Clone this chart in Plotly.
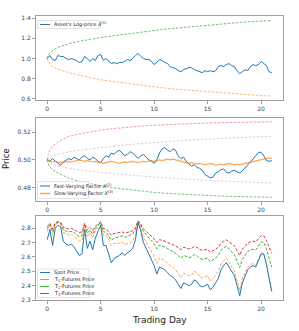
import plotly.graph_objects as go
from plotly.subplots import make_subplots

# ---------------- data ----------------
t = [round(0.25 * i, 2) for i in range(85)]
t_env = [0, 0.1, 0.25, 0.5, 1, 1.5, 2, 3, 4, 5, 6, 7, 8, 9, 10, 11, 12, 13, 14, 15, 16, 17, 18, 19, 20, 21]

log_price = [1.00,1.03,0.99,0.98,1.03,1.02,1.02,1.00,0.99,1.00,
             0.99,0.98,0.96,0.97,1.02,1.00,0.97,1.00,0.98,1.03,
             1.04,0.98,1.00,0.97,0.95,0.96,0.95,0.96,0.96,0.97,
             0.99,0.98,1.00,1.03,1.05,1.02,1.00,0.99,0.99,0.97,
             0.94,0.96,0.99,0.98,0.96,0.95,0.92,0.91,0.90,0.88,
             0.87,0.89,0.90,0.91,0.91,0.89,0.88,0.87,0.86,0.88,
             0.87,0.88,0.87,0.88,0.92,0.93,0.92,0.94,0.95,0.93,
             0.92,0.88,0.85,0.87,0.89,0.88,0.92,0.94,0.93,0.94,
             0.97,0.95,0.93,0.87,0.86]
lp_upper = [1.00,1.035,1.055,1.08,1.11,1.13,1.145,1.17,1.19,1.207,1.222,1.237,1.25,1.265,1.28,1.29,1.30,1.31,1.322,1.332,1.34,1.348,1.356,1.363,1.37,1.377]
lp_lower = [1.00,0.965,0.945,0.92,0.895,0.875,0.86,0.835,0.81,0.79,0.775,0.76,0.745,0.73,0.718,0.707,0.697,0.688,0.679,0.67,0.662,0.655,0.648,0.641,0.634,0.628]

fast_factor = [0.500,0.499,0.501,0.499,0.498,0.496,0.4985,0.500,0.501,0.500,
               0.502,0.501,0.500,0.502,0.503,0.501,0.500,0.502,0.501,0.499,
               0.498,0.501,0.503,0.502,0.505,0.504,0.506,0.507,0.505,0.503,
               0.504,0.506,0.505,0.503,0.501,0.503,0.504,0.502,0.500,0.499,
               0.4975,0.500,0.505,0.508,0.509,0.507,0.506,0.508,0.507,0.503,
               0.501,0.502,0.499,0.497,0.4955,0.4965,0.4945,0.494,0.4925,0.4895,
               0.488,0.487,0.4875,0.4905,0.4915,0.493,0.4935,0.491,0.4905,0.492,
               0.4925,0.4915,0.4905,0.492,0.4945,0.4965,0.4985,0.5005,0.503,0.5055,
               0.5055,0.503,0.4995,0.499,0.4995]
slow_factor = [0.500,0.4995,0.4985,0.499,0.498,0.4985,0.498,0.4985,0.499,0.4985,
               0.499,0.4995,0.500,0.4995,0.499,0.4995,0.499,0.4985,0.499,0.4985,
               0.498,0.4975,0.498,0.4985,0.499,0.4985,0.498,0.4975,0.498,0.4985,
               0.498,0.4985,0.499,0.4985,0.498,0.4985,0.499,0.4985,0.499,0.4995,
               0.499,0.4995,0.500,0.4995,0.500,0.5005,0.500,0.5005,0.500,0.4995,
               0.499,0.4985,0.498,0.4975,0.498,0.4975,0.497,0.4975,0.497,0.4965,
               0.497,0.4975,0.497,0.496,0.4965,0.497,0.4965,0.497,0.4975,0.497,
               0.4965,0.497,0.4965,0.497,0.4975,0.498,0.4985,0.4985,0.499,0.4995,
               0.500,0.5005,0.501,0.5015,0.501]
fast_upper = [0.500,0.504,0.507,0.510,0.513,0.5153,0.517,0.5188,0.5203,0.5215,0.5225,0.5233,0.524,0.5246,0.5251,0.5255,0.5259,0.5262,0.5265,0.5267,0.5269,0.5271,0.5273,0.5274,0.5275,0.5276]
fast_lower = [0.500,0.497,0.495,0.493,0.4905,0.4885,0.487,0.4845,0.4828,0.4813,0.480,0.479,0.478,0.4772,0.4765,0.4759,0.4754,0.4749,0.4745,0.4742,0.4739,0.4737,0.4735,0.4733,0.4731,0.473]
slow_upper = [0.500,0.501,0.502,0.503,0.504,0.505,0.5058,0.507,0.508,0.509,0.5098,0.5106,0.5113,0.512,0.5126,0.5132,0.5137,0.5142,0.5147,0.5151,0.5155,0.5159,0.5162,0.5165,0.5168,0.5171]
slow_lower = [0.500,0.499,0.498,0.497,0.4958,0.4948,0.494,0.4928,0.4918,0.491,0.4902,0.4895,0.4888,0.4882,0.4876,0.4870,0.4865,0.486,0.4856,0.4852,0.4848,0.4845,0.4842,0.4839,0.4836,0.4833]

spot = [2.72,2.79,2.68,2.80,2.82,2.81,2.71,2.69,2.68,2.69,
        2.67,2.64,2.61,2.62,2.79,2.66,2.71,2.65,2.73,2.78,
        2.82,2.68,2.68,2.62,2.56,2.59,2.60,2.61,2.63,2.61,
        2.63,2.64,2.66,2.72,2.84,2.78,2.70,2.66,2.62,2.58,
        2.54,2.48,2.53,2.52,2.51,2.49,2.47,2.46,2.44,2.41,
        2.38,2.42,2.41,2.40,2.41,2.44,2.43,2.40,2.39,2.40,
        2.41,2.37,2.39,2.42,2.45,2.51,2.54,2.56,2.53,2.50,
        2.47,2.40,2.33,2.42,2.47,2.51,2.53,2.54,2.53,2.58,
        2.62,2.62,2.55,2.45,2.36]
fut_t1 = [2.776,2.818,2.752,2.824,2.836,2.830,2.770,2.758,2.752,2.758,
          2.746,2.728,2.710,2.716,2.818,2.740,2.770,2.734,2.782,2.812,
          2.836,2.752,2.752,2.716,2.680,2.693,2.694,2.695,2.704,2.685,
          2.694,2.697,2.710,2.754,2.845,2.798,2.736,2.704,2.671,2.638,
          2.604,2.554,2.593,2.584,2.574,2.556,2.538,2.528,2.510,2.483,
          2.456,2.488,2.478,2.468,2.475,2.500,2.490,2.463,2.453,2.461,
          2.469,2.432,2.449,2.474,2.499,2.550,2.574,2.590,2.561,2.532,
          2.502,2.435,2.367,2.449,2.493,2.529,2.547,2.554,2.543,2.590,
          2.627,2.625,2.555,2.453,2.360]
fut_t2 = [2.793,2.826,2.774,2.831,2.841,2.836,2.788,2.778,2.774,2.778,
          2.769,2.754,2.740,2.745,2.826,2.764,2.788,2.759,2.798,2.822,
          2.841,2.774,2.774,2.745,2.716,2.730,2.734,2.738,2.747,2.736,
          2.745,2.750,2.759,2.789,2.850,2.819,2.777,2.756,2.734,2.712,
          2.690,2.657,2.683,2.676,2.670,2.658,2.646,2.639,2.626,2.608,
          2.590,2.611,2.604,2.596,2.600,2.616,2.609,2.590,2.583,2.587,
          2.591,2.566,2.577,2.593,2.610,2.646,2.663,2.675,2.655,2.636,
          2.616,2.571,2.526,2.582,2.612,2.637,2.649,2.654,2.647,2.679,
          2.704,2.703,2.657,2.590,2.530]
fut_t3 = [2.810,2.835,2.795,2.838,2.846,2.842,2.806,2.799,2.795,2.799,
          2.792,2.781,2.770,2.774,2.835,2.788,2.806,2.784,2.813,2.831,
          2.846,2.795,2.795,2.774,2.752,2.762,2.765,2.767,2.774,2.765,
          2.772,2.775,2.782,2.805,2.852,2.828,2.795,2.778,2.761,2.744,
          2.726,2.700,2.720,2.716,2.711,2.702,2.692,2.687,2.678,2.664,
          2.650,2.667,2.662,2.656,2.660,2.672,2.667,2.652,2.646,2.650,
          2.653,2.633,2.641,2.654,2.667,2.696,2.710,2.719,2.705,2.691,
          2.677,2.644,2.611,2.653,2.677,2.696,2.705,2.710,2.705,2.728,
          2.747,2.747,2.714,2.667,2.625]

x_ticks = [0, 5, 10, 15, 20]
y1_ticks = [0.6, 0.8, 1.0, 1.2, 1.4]
y2_ticks = [0.48, 0.50, 0.52]
y3_ticks = [2.3, 2.4, 2.5, 2.6, 2.7, 2.8]

legend1 = ["Asset's Log-price <i>X</i><sup>(1)</sup>"]
legend2 = ["Fast-Varying Factor <i>X</i><sup>(2)</sup>", "Slow-Varying Factor <i>X</i><sup>(3)</sup>"]
legend3 = ["Spot Price", "T<sub>1</sub>-Futures Price", "T<sub>2</sub>-Futures Price", "T<sub>3</sub>-Futures Price"]

# ---------------- styles ----------------
BLUE, ORANGE, GREEN, RED, PURPLE, BROWN = "#1f77b4", "#ff7f0e", "#2ca02c", "#d62728", "#9467bd", "#8c564b"
FONT = "DejaVu Sans"
W, H = 299, 331
L, R, T, B = 36, 16, 16, 31
PW, PH = W - L - R, H - T - B

def py(v):  # pixel y -> paper y
    return (H - B - v) / PH

def px(v):  # pixel x -> paper x
    return (v - L) / PW

fig = make_subplots(rows=3, cols=1)
fig.update_layout(
    xaxis=dict(domain=[0, 1]), xaxis2=dict(domain=[0, 1]), xaxis3=dict(domain=[0, 1]),
    yaxis=dict(domain=[py(100), py(16)]),
    yaxis2=dict(domain=[py(201), py(118)]),
    yaxis3=dict(domain=[py(300), py(216)]),
)

def line(x, y, color, row, dash="solid", width=1.0, opacity=1.0):
    fig.add_trace(go.Scatter(x=x, y=y, mode="lines", line=dict(color=color, width=width, dash=dash),
                             opacity=opacity, showlegend=False, hoverinfo="skip"), row=row, col=1)

ENV_DASH = "2.5px,1.5px"
FUT_DASH = "3px,1.6px"

# panel 1
line(t_env, lp_upper, GREEN, 1, ENV_DASH, 0.9, 0.75)
line(t_env, lp_lower, ORANGE, 1, ENV_DASH, 0.9, 0.6)
line(t, log_price, BLUE, 1, "solid", 1.0)

# panel 2
line(t_env, fast_upper, RED, 2, ENV_DASH, 0.9, 0.5)
line(t_env, slow_upper, BROWN, 2, ENV_DASH, 0.9, 0.3)
line(t_env, slow_lower, PURPLE, 2, ENV_DASH, 0.9, 0.35)
line(t_env, fast_lower, GREEN, 2, ENV_DASH, 0.9, 0.7)
line(t, fast_factor, BLUE, 2, "solid", 1.0)
line(t, slow_factor, ORANGE, 2, "solid", 1.2, 0.7)

# panel 3
line(t, fut_t3, RED, 3, FUT_DASH, 0.9)
line(t, fut_t2, GREEN, 3, FUT_DASH, 0.9)
line(t, fut_t1, ORANGE, 3, FUT_DASH, 0.9, 0.8)
line(t, spot, BLUE, 3, "solid", 1.0)

axis_common = dict(showgrid=False, zeroline=False, showline=True, mirror=True, linecolor="#a0a0a0",
                   linewidth=0.8, ticks="outside", ticklen=3, tickwidth=0.8, tickcolor="#a0a0a0",
                   tickfont=dict(family=FONT, size=6, color="#444444"))
for i in (1, 2, 3):
    fig.update_xaxes(range=[-1.05, 22.05], tickvals=x_ticks, ticktext=[str(v) for v in x_ticks], row=i, col=1, **axis_common)
fig.update_yaxes(range=[0.59, 1.42], tickvals=y1_ticks, ticktext=["%.1f" % v for v in y1_ticks], row=1, col=1, **axis_common)
fig.update_yaxes(range=[0.4703, 0.5303], tickvals=y2_ticks, ticktext=["%.2f" % v for v in y2_ticks], row=2, col=1, **axis_common)
fig.update_yaxes(range=[2.30, 2.885], tickvals=y3_ticks, ticktext=["%.1f" % v for v in y3_ticks], row=3, col=1, **axis_common)

shapes, annots = [], []

def legend(box, entries):
    x0, y0, x1, y1 = box
    shapes.append(dict(type="rect", xref="paper", yref="paper", x0=px(x0), x1=px(x1), y0=py(y1), y1=py(y0),
                       line=dict(color="#d0d0d0", width=0.6), fillcolor="rgba(255,255,255,0.8)", layer="above"))
    for (yy, label, color, dash, width) in entries:
        shapes.append(dict(type="line", xref="paper", yref="paper", x0=px(x0 + 2.5), x1=px(x0 + 12.5),
                           y0=py(yy), y1=py(yy), line=dict(color=color, width=width, dash=dash), layer="above"))
        annots.append(dict(x=px(x0 + 14), y=py(yy), xref="paper", yref="paper", text=label, showarrow=False,
                           xanchor="left", yanchor="middle", font=dict(family=FONT, size=5, color="#222222")))

legend((37.5, 20.5, 100.5, 28.5), [(24.5, legend1[0], BLUE, "solid", 1.0)])
legend((37.5, 181.5, 88.5, 198.5), [(186, legend2[0], BLUE, "solid", 1.0),
                                    (193.5, legend2[1], "rgba(255,127,14,0.7)", "solid", 1.6)])
legend((37.5, 269, 89, 297.5), [(272.5, legend3[0], BLUE, "solid", 1.0),
                                (279.5, legend3[1], ORANGE, "dash", 0.9),
                                (286.5, legend3[2], GREEN, "dash", 0.9),
                                (293.5, legend3[3], RED, "dash", 0.9)])

annots.append(dict(x=px(6), y=py(159), xref="paper", yref="paper", text="Price", showarrow=False, textangle=-90,
                   xanchor="center", yanchor="middle", font=dict(family=FONT, size=8.5, color="#222222")))
annots.append(dict(x=px(159.5), y=py(320), xref="paper", yref="paper", text="Trading Day", showarrow=False,
                   xanchor="center", yanchor="middle", font=dict(family=FONT, size=9, color="#222222")))

fig.update_layout(width=W, height=H, margin=dict(l=L, r=R, t=T, b=B), plot_bgcolor="white", paper_bgcolor="white",
                  showlegend=False, shapes=shapes, annotations=annots, font=dict(family=FONT))
fig.write_html("out.html", config={"displayModeBar": False},
               post_script="document.body.style.margin='0';document.body.style.overflow='hidden';")
